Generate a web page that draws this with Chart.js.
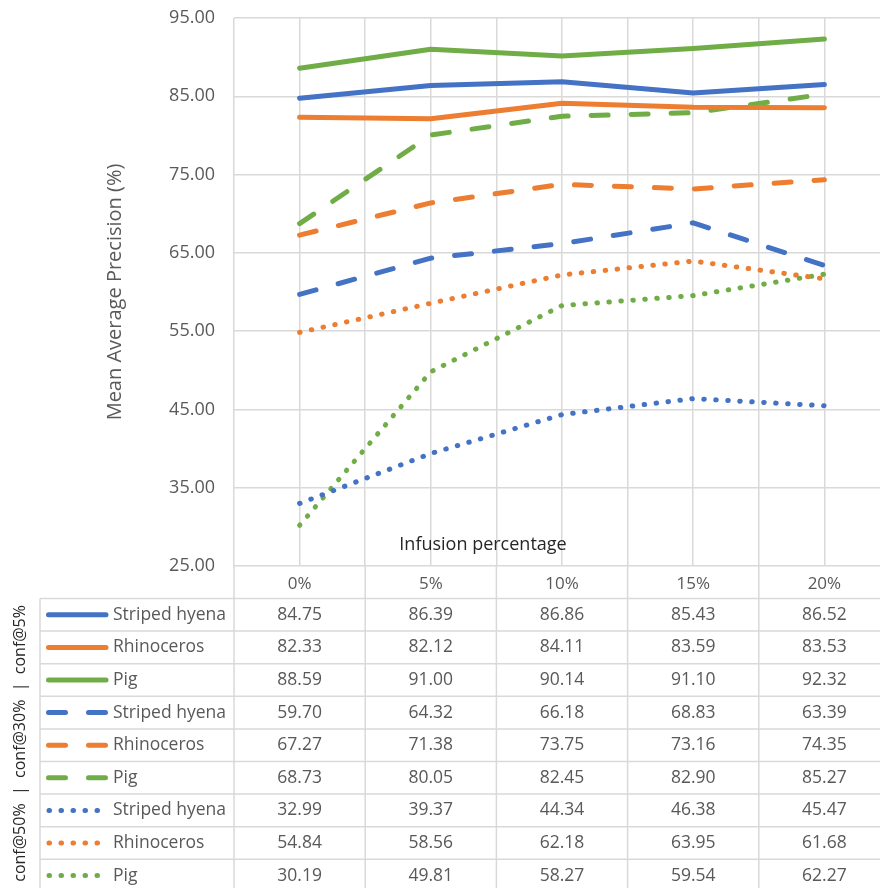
<!DOCTYPE html>
<html>
<head>
<meta charset="utf-8">
<script src="https://cdn.jsdelivr.net/npm/chart.js@4.4.1/dist/chart.umd.min.js"></script>
<style>
  html, body { margin: 0; padding: 0; background: #fff; overflow: hidden; }
  #wrap { width: 890px; height: 888px; }
</style>
</head>
<body>
<div id="wrap"><canvas id="myChart"></canvas></div>
<script>
// categories and series
const categories = ["0%", "5%", "10%", "15%", "20%"];
const animals = ["Striped hyena", "Rhinoceros", "Pig"];
const groupLabel = "conf@50%  |  conf@30%  |  conf@5%";

const hyena5 = [84.75, 86.39, 86.86, 85.43, 86.52];
const rhino5 = [82.33, 82.12, 84.11, 83.59, 83.53];
const pig5 = [88.59, 91.00, 90.14, 91.10, 92.32];
const hyena30 = [59.70, 64.32, 66.18, 68.83, 63.39];
const rhino30 = [67.27, 71.38, 73.75, 73.16, 74.35];
const pig30 = [68.73, 80.05, 82.45, 82.90, 85.27];
const hyena50 = [32.99, 39.37, 44.34, 46.38, 45.47];
const rhino50 = [54.84, 58.56, 62.18, 63.95, 61.68];
const pig50 = [30.19, 49.81, 58.27, 59.54, 62.27];

const yMin = 25, yMax = 95, yStep = 10;

const seriesRows = [hyena5, rhino5, pig5, hyena30, rhino30, pig30, hyena50, rhino50, pig50];

const colors = ["#4472C4", "#ED7D31", "#70AD47"];
const dashes = [[], [17, 23], [0.5, 11.5]]; // solid, long dash, round dot
const FONT = "'Open Sans', sans-serif";
const GRID = "#D9D9D9";

const datasets = seriesRows.map((vals, i) => ({
  label: animals[i % 3],
  data: vals,
  borderColor: colors[i % 3],
  backgroundColor: colors[i % 3],
  borderWidth: 5,
  borderDash: dashes[Math.floor(i / 3)],
  borderCapStyle: "round",
  borderJoinStyle: "round",
  pointRadius: 0,
  tension: 0,
  fill: false,
}));

// data table under the plot, like Excel's "data table with legend keys"
const tablePlugin = {
  id: "dataTable",
  afterDraw(chart) {
    const { ctx, chartArea } = chart;
    const x = chart.scales.x;
    const top = chartArea.bottom;
    const headerH = 32.5;
    const rowH = 32.6;
    const keyLeft = 40;
    const bottom = chart.height;
    const step = x.width / categories.length;

    ctx.save();
    ctx.strokeStyle = GRID;
    ctx.lineWidth = 1.5;
    ctx.setLineDash([]);
    ctx.beginPath();
    for (let i = 0; i <= categories.length; i++) {
      const bx = x.left + i * step;
      ctx.moveTo(bx, top);
      ctx.lineTo(bx, bottom);
    }
    ctx.moveTo(keyLeft, top + headerH);
    ctx.lineTo(keyLeft, bottom);
    for (let k = 0; k < seriesRows.length; k++) {
      const ry = top + headerH + k * rowH;
      ctx.moveTo(keyLeft, ry);
      ctx.lineTo(x.right, ry);
    }
    ctx.stroke();

    // rows
    seriesRows.forEach((vals, d) => {
      const cy = top + headerH + d * rowH + rowH / 2;
      const ds = chart.data.datasets[d];
      ctx.save();
      ctx.strokeStyle = ds.borderColor;
      ctx.lineWidth = ds.borderWidth;
      ctx.lineCap = "round";
      ctx.setLineDash(ds.borderDash);
      ctx.beginPath();
      if (ds.borderDash.length && ds.borderDash[0] < 1) {
        ctx.moveTo(49, cy);
        ctx.lineTo(104, cy);
      } else {
        ctx.moveTo(48.5, cy);
        ctx.lineTo(106, cy);
      }
      ctx.stroke();
      ctx.restore();

      ctx.fillStyle = "#595959";
      ctx.font = "17.5px " + FONT;
      ctx.textBaseline = "middle";
      ctx.textAlign = "left";
      ctx.fillText(ds.label, 113, cy);
      ctx.textAlign = "center";
      vals.forEach((v, i) => {
        ctx.fillText(v.toFixed(2), x.getPixelForValue(i), cy);
      });
    });

    // axis title placed above the table, as in the source
    ctx.fillStyle = "#262626";
    ctx.font = "18px " + FONT;
    ctx.textAlign = "center";
    ctx.textBaseline = "middle";
    ctx.fillText("Infusion percentage", 483, 545);

    // rotated group label on the left
    ctx.translate(20, 605);
    ctx.rotate(-Math.PI / 2);
    ctx.textAlign = "right";
    ctx.font = "16px " + FONT;
    ctx.fillStyle = "#262626";
    ctx.fillText(groupLabel, 0, 0);
    ctx.restore();
  },
};

const config = {
  type: "line",
  data: { labels: categories, datasets: datasets },
  options: {
    responsive: true,
    maintainAspectRatio: false,
    animation: false,
    layout: { padding: { left: 100, top: 18, right: 0, bottom: 0 } },
    plugins: {
      legend: { display: false },
      tooltip: { enabled: false },
      title: { display: false },
    },
    scales: {
      x: {
        type: "category",
        position: "bottom",
        offset: true,
        grid: { offset: true, color: GRID, lineWidth: 1.5, drawTicks: false },
        border: { display: false },
        ticks: { color: "#595959", font: { family: FONT, size: 17 }, padding: 8, maxRotation: 0 },
        afterFit(scale) { scale.height = 322; },
      },
      x2: {
        type: "category",
        position: "bottom",
        offset: true,
        grid: { offset: false, color: GRID, lineWidth: 1.5, drawTicks: false },
        border: { display: false },
        ticks: { display: false },
        afterFit(scale) { scale.height = 0; },
      },
      y: {
        min: yMin,
        max: yMax,
        ticks: {
          stepSize: yStep,
          color: "#595959",
          font: { family: FONT, size: 18 },
          padding: 0,
          callback: (v) => v.toFixed(2),
        },
        // invisible tick marks give the gap between labels and plot
        grid: { color: GRID, lineWidth: 1.5, drawTicks: true, tickLength: 19, tickColor: "rgba(0,0,0,0)" },
        border: { display: false },
        title: {
          display: true,
          text: "Mean Average Precision (%)",
          color: "#595959",
          font: { family: FONT, size: 20 },
          padding: 3,
        },
        afterFit(scale) { scale.width = 134; },
      },
    },
  },
  plugins: [tablePlugin],
};

const ctx = document.getElementById("myChart").getContext("2d");
new Chart(ctx, config);
</script>
</body>
</html>
